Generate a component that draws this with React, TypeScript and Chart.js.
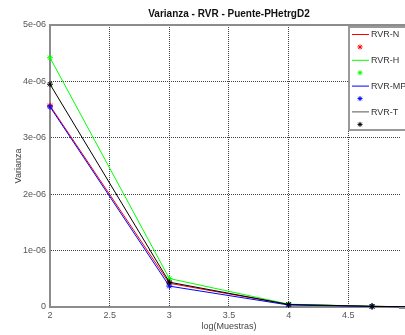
import React, { useEffect, useRef } from "react";
import { Chart, registerables } from "chart.js";

Chart.register(...registerables);

const chartTitle = "Varianza - RVR - Puente-PHetrgD2";
const xTitle = "log(Muestras)";
const yTitle = "Varianza";
const xLog = [2, 3, 4, 4.699, 5];
const seriesNames = ["RVR-N", "RVR-H", "RVR-MP", "RVR-T"];
const seriesColors = ["#ff0000", "#00ff00", "#0000ff", "#000000"];
const legendLineColors = ["#ff0000", "#00ff00", "#0000ff", "#555555"];
const rvrN = [3.57e-6, 0.42e-6, 0.045e-6, 0.012e-6, 0.004e-6];
const rvrH = [4.42e-6, 0.505e-6, 0.05e-6, 0.012e-6, 0.004e-6];
const rvrMP = [3.55e-6, 0.37e-6, 0.035e-6, 0.01e-6, 0.003e-6];
const rvrT = [3.95e-6, 0.44e-6, 0.045e-6, 0.012e-6, 0.004e-6];
const markerShown = [true, true, true, true, false];
const xTicks = [2, 2.5, 3, 3.5, 4, 4.5];
const yTicks = [0, 1e-6, 2e-6, 3e-6, 4e-6, 5e-6];
const xMax = 4.933;
const xFullMax = 5;

const FONT = "'Liberation Sans', Arial, sans-serif";

export default function App() {
  const ref = useRef<HTMLCanvasElement | null>(null);

  useEffect(() => {
    const canvas = ref.current;
    if (!canvas) return;
    const allSeries = [rvrN, rvrH, rvrMP, rvrT];

    const frame = {
      id: "frameAndLegend",
      afterDraw(chart: any) {
        const ctx = chart.ctx;
        const a = chart.chartArea;
        const xs = chart.scales.x;
        const fullRight = xs.getPixelForValue(xFullMax);
        ctx.save();
        // title centered over full axes box
        ctx.fillStyle = "#111111";
        ctx.font = "bold 10px " + FONT;
        ctx.textAlign = "center";
        ctx.textBaseline = "middle";
        ctx.fillText(chartTitle, (a.left + fullRight) / 2, 14);
        // top and bottom borders extended
        ctx.strokeStyle = "#8c8c8c";
        ctx.lineWidth = 2;
        ctx.beginPath();
        ctx.moveTo(a.left - 1, a.top);
        ctx.lineTo(chart.width, a.top);
        ctx.moveTo(a.right - 1, a.bottom + 1);
        ctx.lineTo(chart.width, a.bottom + 1);
        ctx.stroke();
        // legend box
        const bx = 349, by = 27, bw = 60, bh = 103;
        ctx.fillStyle = "#ffffff";
        ctx.fillRect(bx, by, bw, bh);
        ctx.strokeStyle = "#999999";
        ctx.lineWidth = 2;
        ctx.strokeRect(bx, by, bw, bh);
        ctx.font = "9px " + FONT;
        ctx.textBaseline = "middle";
        ctx.textAlign = "left";
        for (let i = 0; i < seriesNames.length; i++) {
          const y = 34 + i * 25.8;
          ctx.strokeStyle = legendLineColors[i];
          ctx.lineWidth = 1;
          ctx.beginPath();
          ctx.moveTo(352, y + 0.5);
          ctx.lineTo(369, y + 0.5);
          ctx.stroke();
          ctx.fillStyle = "#333333";
          ctx.fillText(seriesNames[i], 371, y + 1);
          const sx = 360, sy = y + 13;
          const r = 2.5;
          ctx.strokeStyle = seriesColors[i];
          ctx.lineWidth = 1;
          ctx.beginPath();
          ctx.moveTo(sx - r, sy); ctx.lineTo(sx + r, sy);
          ctx.moveTo(sx, sy - r); ctx.lineTo(sx, sy + r);
          ctx.moveTo(sx - r * 0.7, sy - r * 0.7); ctx.lineTo(sx + r * 0.7, sy + r * 0.7);
          ctx.moveTo(sx - r * 0.7, sy + r * 0.7); ctx.lineTo(sx + r * 0.7, sy - r * 0.7);
          ctx.stroke();
        }
        // x axis title centered on full axes box
        ctx.fillStyle = "#444444";
        ctx.textAlign = "center";
        ctx.textBaseline = "middle";
        ctx.fillText(xTitle, (a.left + fullRight) / 2, 327);
        ctx.restore();
      },
    };

    const chart = new Chart(canvas, {
      type: "line",
      data: {
        datasets: seriesNames.map((name, i) => ({
          label: name,
          data: xLog.map((x, j) => ({ x, y: allSeries[i][j] })),
          borderColor: seriesColors[i],
          backgroundColor: seriesColors[i],
          borderWidth: 1,
          pointStyle: "star",
          pointRadius: markerShown.map((s) => (s ? 3 : 0)),
          pointBorderWidth: 1,
          pointBorderColor: seriesColors[i],
          fill: false,
          tension: 0,
          clip: false,
          order: seriesNames.length - i,
        })),
      },
      options: {
        responsive: false,
        animation: false,
        devicePixelRatio: 1,
        layout: { padding: { left: 0, right: 0, top: 25, bottom: 0 } },
        plugins: {
          legend: { display: false },
          tooltip: { enabled: false },
          title: { display: false },
        },
        scales: {
          x: {
            type: "linear",
            min: 2,
            max: xMax,
            afterBuildTicks: (scale: any) => {
              scale.ticks = xTicks.map((v) => ({ value: v }));
            },
            afterFit: (scale: any) => {
              scale.height = 28;
              scale.paddingRight = 0;
              scale.paddingLeft = 0;
            },
            ticks: {
              color: "#555555",
              font: { family: FONT, size: 9 },
              padding: 3,
              maxRotation: 0,
              callback: (v: any) => String(v),
            },
            grid: {
              color: "rgba(0,0,0,0.75)",
              lineWidth: 1,
              drawTicks: false,
            },
            border: { color: "#8c8c8c", width: 2, dash: [1, 1] },
            title: { display: false },
          },
          y: {
            type: "linear",
            min: 0,
            max: 5e-6,
            afterBuildTicks: (scale: any) => {
              scale.ticks = yTicks.map((v) => ({ value: v }));
            },
            afterFit: (scale: any) => {
              scale.width = 50;
              scale.paddingTop = 0;
              scale.paddingBottom = 0;
            },
            ticks: {
              color: "#555555",
              font: { family: FONT, size: 9 },
              padding: 4,
              callback: (v: any) => {
                const n = Math.round(Number(v) * 1e6);
                return n === 0 ? "0" : n + "e-06";
              },
            },
            grid: {
              color: "rgba(0,0,0,0.75)",
              lineWidth: 1,
              drawTicks: false,
            },
            border: { color: "#8c8c8c", width: 2, dash: [1, 1] },
            title: {
              display: true,
              text: yTitle,
              color: "#444444",
              font: { family: FONT, size: 9 },
              padding: { top: 13, bottom: 0 },
            },
          },
        },
      },
      plugins: [frame],
    });

    return () => chart.destroy();
  }, []);

  return (
    <div style={{ position: "absolute", left: 0, top: 0, width: 405, height: 335, background: "#fff" }}>
      <canvas ref={ref} width={405} height={335} style={{ display: "block" }} />
    </div>
  );
}
